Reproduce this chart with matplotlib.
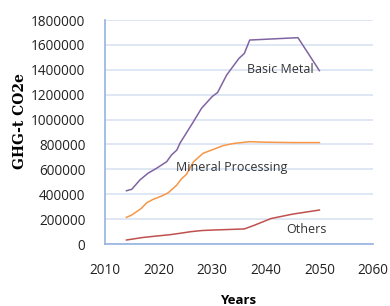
import matplotlib
matplotlib.use("Agg")
import matplotlib.pyplot as plt

# Basic Metal
bm_years = [2014, 2015, 2016.5, 2018, 2019.6, 2021.5, 2022.4, 2023.4, 2024, 2026.5,
            2028, 2030, 2031, 2032.7, 2035, 2036, 2037, 2046, 2050]
bm_vals = [428000, 440000, 514000, 568000, 608000, 661000, 715000, 755000, 811000, 983000,
           1090000, 1185000, 1217000, 1358000, 1492000, 1532000, 1639000, 1658000, 1393000]

# Mineral Processing
mp_years = [2014, 2015, 2016.8, 2017.8, 2019, 2020.6, 2021.8, 2023.4, 2024.2, 2025.2,
            2026.5, 2028.3, 2030.2, 2032, 2034, 2037, 2040, 2045, 2050]
mp_vals = [214000, 233000, 287000, 332000, 359000, 386000, 412000, 474000, 520000, 560000,
           660000, 729000, 760000, 790000, 808000, 822000, 818000, 815000, 815000]

# Others
ot_years = [2014, 2017, 2019.6, 2022, 2024, 2026, 2028, 2030, 2036, 2038, 2041, 2045, 2050]
ot_vals = [32000, 52000, 64000, 74000, 86000, 99000, 108000, 112000, 121000, 153000,
           205000, 240000, 273000]

y_ticks = [0, 200000, 400000, 600000, 800000, 1000000, 1200000, 1400000, 1600000, 1800000]
x_ticks = [2010, 2020, 2030, 2040, 2050, 2060]

plt.rcParams['font.family'] = ['Open Sans', 'DejaVu Sans']

fig = plt.figure(figsize=(3.9, 3.06), dpi=100)
ax = fig.add_axes([105 / 390, 1 - 244 / 306, 268 / 390, 224 / 306])

ax.plot(bm_years, bm_vals, color='#8064A2', linewidth=1.1)
ax.plot(mp_years, mp_vals, color='#F79646', linewidth=1.1)
ax.plot(ot_years, ot_vals, color='#C0504D', linewidth=1.1)

ax.set_xlim(2010, 2060)
ax.set_ylim(0, 1800000)
ax.set_xticks(x_ticks)
ax.set_yticks(y_ticks)
ax.set_xticklabels([str(t) for t in x_ticks])
ax.set_yticklabels([str(t) for t in y_ticks])
ax.tick_params(length=0, labelsize=9.8, colors='#222222')
ax.tick_params(axis='x', pad=14)
ax.tick_params(axis='y', pad=14)

ax.grid(axis='y', color='#D9E3F3', linewidth=1.2)
ax.set_axisbelow(True)
for s in ['top', 'right']:
    ax.spines[s].set_visible(False)
ax.spines['left'].set_color('#95B3E0')
ax.spines['bottom'].set_color('#95B3E0')
ax.spines['left'].set_linewidth(1.2)
ax.spines['bottom'].set_linewidth(1.2)

ax.text(2042.8, 1400000, 'Basic Metal', fontsize=9, color='#333333', ha='center', va='center')
ax.text(2033.7, 617000, 'Mineral Processing', fontsize=9, color='#333333', ha='center', va='center')
ax.text(2047.5, 117000, 'Others', fontsize=9, color='#333333', ha='center', va='center')

fig.text(20 / 390, 1 - 121 / 306, 'GHG-t CO2e', rotation=90, ha='center', va='center',
         fontsize=10, fontweight='bold', family='DejaVu Serif')
fig.text(238 / 390, 1 - 300 / 306, 'Years', ha='center', va='center',
         fontsize=9.5, fontweight='bold')

fig.savefig('out.png', dpi=100)
